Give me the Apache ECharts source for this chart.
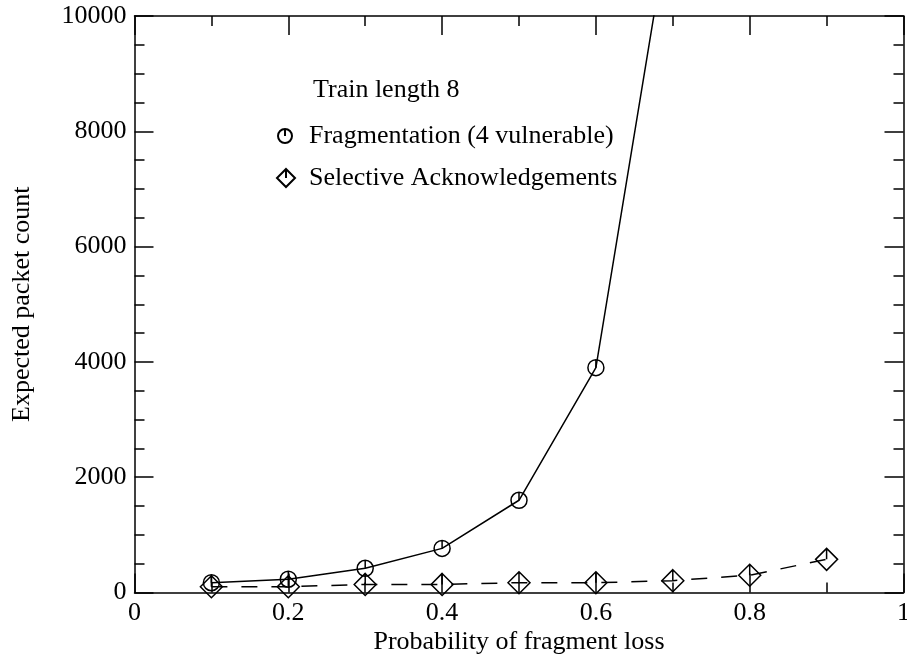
<!DOCTYPE html>
<html>
<head>
<meta charset="utf-8">
<script src="https://cdn.jsdelivr.net/npm/echarts@6/dist/echarts.min.js"></script>
<style>
  html, body { margin: 0; padding: 0; background: #fff; }
  #chart { width: 907px; height: 655px; }
</style>
</head>
<body>
<div id="chart"></div>
<script>
// ---- data ----
var fragX = [0.1, 0.2, 0.3, 0.4, 0.5, 0.6, 0.7];
var fragY = [170, 230, 420, 765, 1600, 3900, 12000];
var sackX = [0.1, 0.2, 0.3, 0.4, 0.5, 0.6, 0.7, 0.8, 0.9];
var sackY = [100, 100, 140, 140, 170, 170, 205, 300, 575];
var xTicks = [0, 0.2, 0.4, 0.6, 0.8, 1];
var yTicks = [0, 2000, 4000, 6000, 8000, 10000];
var fragName = 'Fragmentation (4 vulnerable)';
var sackName = 'Selective Acknowledgements';
var noteText = 'Train length 8';

function pairs(xs, ys) { return xs.map(function (x, i) { return [x, ys[i]]; }); }

var FONT = 'Liberation Serif';
var circlePath = 'path://M0,-10 A10,10 0 1,1 0,10 A10,10 0 1,1 0,-10 Z M0,-10 L0,0';
var diamondPath = 'path://M0,-10 L10,0 L0,10 L-10,0 Z M0,-10 L0,0';

var chart = echarts.init(document.getElementById('chart'));

function xAx(pos, showLabel) {
  return {
    type: 'value', position: pos, min: xTicks[0], max: xTicks[xTicks.length - 1], interval: 0.2,
    name: showLabel ? 'Probability of fragment loss' : '',
    nameLocation: 'middle', nameGap: 37, nameMoveOverlap: false,
    nameTextStyle: { fontFamily: FONT, fontSize: 26, color: '#000' },
    axisLine: { show: true, onZero: false, lineStyle: { color: '#000', width: 1.5 } },
    axisTick: { show: true, inside: true, length: 19, lineStyle: { color: '#000', width: 1.5 } },
    minorTick: { show: true, splitNumber: 2, length: 10, lineStyle: { color: '#000', width: 1.5 } },
    axisLabel: { show: showLabel, fontFamily: FONT, fontSize: 26, color: '#000', margin: 8,
      formatter: function (v) { return String(+v.toFixed(1)); } },
    splitLine: { show: false }
  };
}
function yAx(pos, showLabel) {
  return {
    type: 'value', position: pos, min: yTicks[0], max: yTicks[yTicks.length - 1], interval: 2000,
    name: showLabel ? 'Expected packet count' : '',
    nameLocation: 'middle', nameGap: 99, nameMoveOverlap: false,
    nameTextStyle: { fontFamily: FONT, fontSize: 26, color: '#000' },
    axisLine: { show: true, onZero: false, lineStyle: { color: '#000', width: 1.5 } },
    axisTick: { show: true, inside: true, length: 19, lineStyle: { color: '#000', width: 1.5 } },
    minorTick: { show: true, splitNumber: 4, length: 10, lineStyle: { color: '#000', width: 1.5 } },
    axisLabel: { show: showLabel, fontFamily: FONT, fontSize: 26, color: '#000', margin: 8,
      formatter: function (v) { return String(v); } },
    splitLine: { show: false }
  };
}

var option = {
  backgroundColor: '#fff',
  animation: false,
  grid: { left: 134.5, right: 3.5, top: 16, bottom: 62.5, containLabel: false, outerBoundsMode: 'none' },
  title: {
    text: noteText, left: 308, top: 72,
    textStyle: { fontFamily: FONT, fontSize: 26, fontWeight: 'normal', color: '#000' }
  },
  legend: [
    {
      data: [{ name: fragName, icon: circlePath }],
      left: 272, top: 118, itemWidth: 28, itemHeight: 14, symbolKeepAspect: true,
      textStyle: { fontFamily: FONT, fontSize: 26, color: '#000', padding: [0, 0, 0, 5] },
      selectedMode: false
    },
    {
      data: [{ name: sackName, icon: diamondPath }],
      left: 271, top: 160, itemWidth: 28, itemHeight: 18, symbolKeepAspect: true,
      textStyle: { fontFamily: FONT, fontSize: 26, color: '#000', padding: [0, 0, 0, 4] },
      selectedMode: false
    }
  ],
  xAxis: [xAx('bottom', true), xAx('top', false)],
  yAxis: [yAx('left', true), yAx('right', false)],
  series: [
    {
      name: fragName, type: 'line', xAxisIndex: 0, yAxisIndex: 0,
      data: pairs(fragX, fragY), clip: true,
      symbol: circlePath, symbolSize: 16, showAllSymbol: true,
      itemStyle: { color: 'rgba(0,0,0,0)', borderColor: '#000', borderWidth: 1.5 },
      lineStyle: { color: '#000', width: 1.5, type: 'solid' }
    },
    {
      name: sackName, type: 'line', xAxisIndex: 0, yAxisIndex: 0,
      data: pairs(sackX, sackY), clip: true,
      symbol: diamondPath, symbolSize: 22, showAllSymbol: true,
      itemStyle: { color: 'rgba(0,0,0,0)', borderColor: '#000', borderWidth: 1.5 },
      lineStyle: { color: '#000', width: 1.5, type: [16, 14] }
    }
  ]
};
chart.setOption(option);
</script>
</body>
</html>
